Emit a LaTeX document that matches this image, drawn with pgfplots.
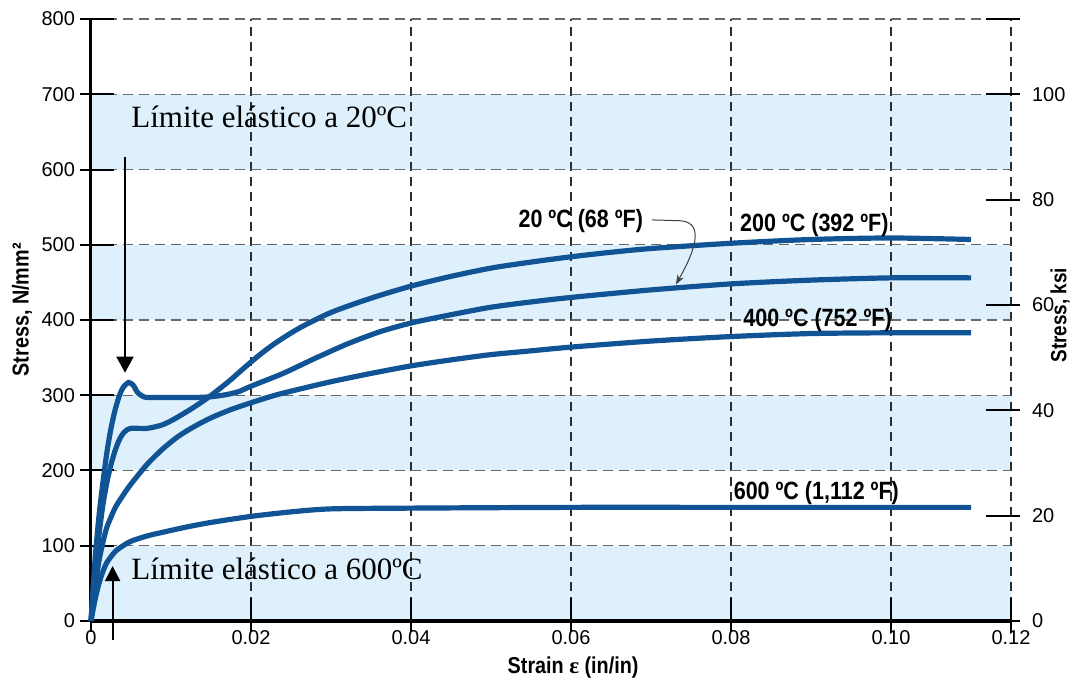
\documentclass[border=0pt]{standalone}
\usepackage{fontspec}
\setmainfont{Liberation Sans}
\newfontfamily\labfont[FakeStretch=0.86]{Liberation Sans}
\newfontfamily\serifont{Liberation Serif}
\usepackage{pgfplots}
\pgfplotsset{compat=1.18}
\usetikzlibrary{arrows.meta}
\pgfkeys{/pgf/number format/assume math mode=true}
\definecolor{curve}{RGB}{16,84,150}
\definecolor{band}{RGB}{222,240,251}
\definecolor{gridh}{RGB}{105,105,105}
\definecolor{gridv}{RGB}{45,45,45}
\begin{document}
\begin{tikzpicture}
\useasboundingbox (0,0) rectangle (536pt,339.5pt);
\pgfplotsset{common/.style={scale only axis, width=460pt, height=301pt,
  at={(45.5pt,29pt)}, anchor=south west, xmin=0, xmax=0.115}}
% background bands
\begin{axis}[common, ymin=0, ymax=800, hide axis]
\addplot[draw=none, fill=band] coordinates {(0,0) (0.115,0) (0.115,100) (0,100) (0,0)};
\addplot[draw=none, fill=band] coordinates {(0,200) (0.115,200) (0.115,300) (0,300) (0,200)};
\addplot[draw=none, fill=band] coordinates {(0,400) (0.115,400) (0.115,500) (0,500) (0,400)};
\addplot[draw=none, fill=band] coordinates {(0,600) (0.115,600) (0.115,700) (0,700) (0,600)};
\end{axis}
% main axis
\begin{axis}[common, ymin=0, ymax=800, clip=false,
  axis x line*=bottom, axis y line*=left,
  x axis line style={line width=2pt},
  y axis line style={line width=1.5pt},
  xtick={0,0.02,0.04,0.06,0.08,0.10,0.115},
  xticklabels={0,0.02,0.04,0.06,0.08,0.10,0.12},
  ytick={0,100,...,800},
  xmajorgrids, ymajorgrids,
  x grid style={gridv, line width=0.6pt, dash pattern=on 4.5pt off 3pt},
  y grid style={gridh, line width=0.6pt, dash pattern=on 5pt off 3pt},
  tick align=center, major tick length=17pt,
  x tick style={black, line width=1.2pt, yshift=3pt},
  y tick style={black, line width=1pt, xshift=3pt},
  tick label style={font=\fontsize{10}{12}\selectfont},
  xticklabel style={yshift=7.5pt},
  yticklabel style={xshift=4pt},
  xlabel={Strain {\serifont ε} (in/in)},
  ylabel={Stress, N/mm²},
  every axis x label/.style={at={(axis description cs:0.524,-0.078)}, anchor=center, font=\labfont\bfseries\fontsize{11.5}{13}\selectfont},
  every axis y label/.style={at={(axis description cs:-0.075,0.517)}, anchor=center, rotate=90, font=\labfont\bfseries\fontsize{11.5}{13}\selectfont},
]
% 20 C
\addplot[curve, line width=2.6pt, smooth, tension=0.45] coordinates {
(0,0)(0.0005,80)(0.001,140)(0.0015,185)(0.002,225)(0.0025,256)(0.003,280)(0.0035,298)(0.004,310)(0.0047,317)(0.0053,313)(0.0058,304)(0.0064,299)(0.007,297)(0.009,297)(0.011,297)(0.013,297)(0.015,298)(0.017,301)(0.0185,305)(0.02,312)(0.024,329)(0.028,349)(0.032,368)(0.036,384)(0.04,396)(0.045,407)(0.05,417)(0.055,424)(0.06,430)(0.07,440)(0.08,448)(0.09,453)(0.10,456)(0.11,456)};
% 200 C
\addplot[curve, line width=2.6pt, smooth, tension=0.45] coordinates {
(0,0)(0.0005,65)(0.001,115)(0.0015,155)(0.002,185)(0.0025,208)(0.003,226)(0.0035,240)(0.004,249)(0.0045,254)(0.005,256)(0.006,256)(0.007,256)(0.008,258)(0.009,261)(0.010,266)(0.011,272)(0.0124,281)(0.0137,290)(0.0149,299)(0.016,308)(0.0174,320)(0.019,335)(0.021,353)(0.023,369)(0.026,389)(0.03,410)(0.035,429)(0.04,445)(0.045,458)(0.05,469)(0.055,477)(0.06,484)(0.065,490)(0.07,495)(0.08,502)(0.09,507)(0.10,509)(0.11,507)};
% 400 C
\addplot[curve, line width=2.6pt, smooth, tension=0.45] coordinates {
(0,0)(0.0005,45)(0.001,80)(0.0015,105)(0.002,125)(0.003,150)(0.004,167)(0.005,182)(0.007,208)(0.009,229)(0.011,246)(0.013,259)(0.015,270)(0.0175,281)(0.02,290)(0.023,300)(0.026,308)(0.03,318)(0.035,329)(0.04,339)(0.045,347)(0.05,354)(0.055,359)(0.06,364)(0.07,372)(0.08,378)(0.09,382)(0.10,383)(0.11,383)};
% 600 C
\addplot[curve, line width=2.6pt, smooth, tension=0.45] coordinates {
(0,0)(0.0005,28)(0.001,50)(0.0015,66)(0.002,78)(0.003,92)(0.004,100)(0.005,106)(0.007,113)(0.009,118)(0.012,125)(0.015,131)(0.02,139)(0.025,145)(0.03,149)(0.04,150)(0.06,151)(0.08,151)(0.11,151)};
% curve labels
\begin{scope}[every node/.style={inner sep=0pt, font=\labfont\bfseries\fontsize{12.5}{14}\selectfont}]
\node[anchor=west] at (axis cs:0.0534,531) {20 ºC (68 ºF)};
\node[anchor=west] at (axis cs:0.0811,526) {200 ºC (392 ºF)};
\node[anchor=west] at (axis cs:0.0815,400) {400 ºC (752 ºF)};
\node[anchor=west] at (axis cs:0.0803,170) {600 ºC (1,112 ºF)};
\end{scope}
\draw[line width=0.5pt, black!75, -{Stealth[length=5pt,width=3.5pt]}]
  (axis cs:0.0701,533) -- (axis cs:0.0735,532) .. controls (axis cs:0.0762,531) and (axis cs:0.0762,505) .. (axis cs:0.0731,447);
% yield annotations
\draw[line width=1pt, -{Triangle[length=8pt,width=8.5pt]}] (axis cs:0.00425,617) -- (axis cs:0.00425,330);
\draw[line width=1pt, -{Triangle[length=7.5pt,width=7.5pt]}] (axis cs:0.0027,-25) -- (axis cs:0.0027,73);
\node[anchor=base west, inner sep=0pt, font=\serifont\fontsize{15.5}{17}\selectfont] at (axis cs:0.005,656) {Límite elástico a 20ºC};
\node[anchor=base west, inner sep=0pt, font=\serifont\fontsize{15.5}{17}\selectfont] at (axis cs:0.005,55) {Límite elástico a 600ºC};
\end{axis}
% right axis in ksi
\begin{axis}[common, ymin=0, ymax=114.2857,
  hide x axis, axis y line*=right,
  y axis line style={draw=none},
  ytick={0,20,40,60,80,100,114.2857},
  yticklabels={0,20,40,60,80,100,{}},
  tick align=center, major tick length=17pt,
  y tick style={black, line width=1pt, xshift=-4pt},
  tick label style={font=\fontsize{10}{12}\selectfont},
  yticklabel style={xshift=-1.5pt},
  ylabel={Stress, ksi},
  every axis y label/.style={at={(axis description cs:1.0535,0.508)}, anchor=center, rotate=90, inner sep=0pt, font=\labfont\bfseries\fontsize{11}{12}\selectfont},
]
\addplot[draw=none] coordinates {(0,0)};
\end{axis}
\end{tikzpicture}
\end{document}
